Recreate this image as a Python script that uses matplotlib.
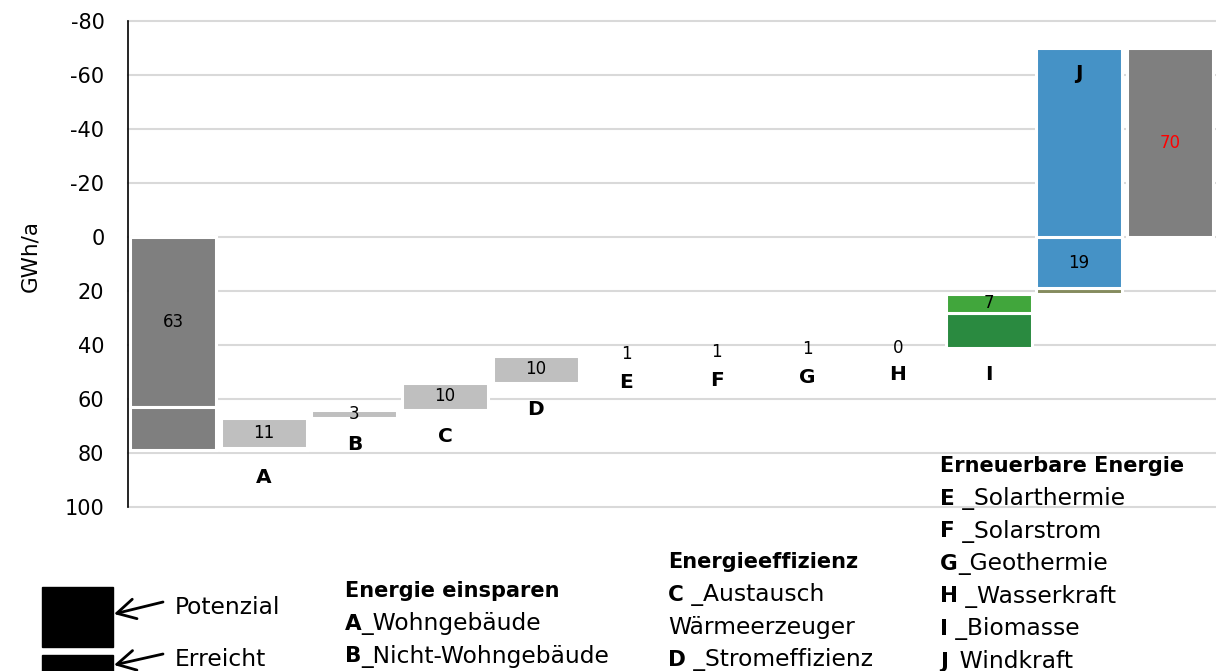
import matplotlib
matplotlib.use("Agg")
import matplotlib.pyplot as plt
from matplotlib.patches import Rectangle
from matplotlib.transforms import offset_copy

plt.rcParams['font.family'] = ['DejaVu Sans']

# ---- data -------------------------------------------------------------
start_segments = [63, 16]                      # starting bar, drawn downward from 0
categories = ['A', 'B', 'C', 'D', 'E', 'F', 'G', 'H', 'I', 'J']
erreicht = [1, 0, 0, 0, 0, 0, 0, 0, 13, 2]     # achieved part of each measure
potenzial = [11, 3, 10, 10, 1, 1, 1, 0, 7, 89]  # remaining potential
yticks = [-80, -60, -40, -20, 0, 20, 40, 60, 80, 100]

gray_dark = '#7f7f7f'
gray_light = '#bfbfbf'
pot_colors = [gray_light] * 8 + ['#41a63c', '#4592c6']
err_colors = [gray_light] * 8 + ['#2a8a40', '#858b5e']

W, H = 1216, 671
fig = plt.figure(figsize=(W / 100, H / 100), dpi=100)
ax = fig.add_axes([128 / W, 1 - 507 / H, (1215 - 128) / W, (507 - 21) / H])

bw = 0.95
edge = dict(edgecolor='white', linewidth=2.2)
num_fs = 12
let_fs = 14.5


def seg(x, a, b, color):
    ax.bar(x, b - a, bottom=a, width=bw, color=color, zorder=2, **edge)


# starting bar
seg(0, 0, start_segments[0], gray_dark)
ax.text(0, start_segments[0] / 2, f"{start_segments[0]}", ha='center', va='center', fontsize=num_fs)
seg(0, start_segments[0], sum(start_segments), gray_dark)
level = sum(start_segments)

for i, cat in enumerate(categories):
    x = i + 1
    bottom = level
    e, p = erreicht[i], potenzial[i]
    if e:
        seg(x, level - e, level, err_colors[i])
    level -= e
    top = level - p
    if top < 0 < level:
        # split the potential at the zero line
        seg(x, 0, level, pot_colors[i])
        seg(x, top, 0, pot_colors[i])
        ax.text(x, level / 2, f"{level}", ha='center', va='center', fontsize=num_fs)
        ax.text(x, top + 9.5, cat, ha='center', va='center', fontsize=let_fs, fontweight='bold')
    else:
        seg(x, top, level, pot_colors[i])
        ax.text(x, level - p / 2, f"{p}", ha='center', va='center', fontsize=num_fs)
        ax.text(x, bottom + 10, cat, ha='center', va='center', fontsize=let_fs, fontweight='bold')
    level = top

# result bar
n = len(categories) + 1
seg(n, level, 0, gray_dark)
ax.text(n, level / 2, f"{-level}", ha='center', va='center', fontsize=num_fs, color='red')

ax.set_xlim(-0.5, n + 0.5)
ax.set_ylim(100, -80)
ax.set_yticks(yticks)
ax.set_yticklabels([str(t) for t in yticks], fontsize=15)
ax.set_xticks([])
ax.tick_params(axis='y', length=0, pad=17)
ax.yaxis.grid(True, color='#d9d9d9', linewidth=1.5)
for gl in ax.get_ygridlines():
    gl.set_clip_on(False)
ax.set_axisbelow(True)
for s in ['top', 'right', 'bottom']:
    ax.spines[s].set_visible(False)
ax.spines['left'].set_color('black')
ax.spines['left'].set_linewidth(1.2)
ax.spines['left'].set_zorder(3)


def fy(y):
    return 1 - y / H


fig.text(30 / W, fy(256), 'GWh/a', fontsize=15.5, rotation=90, ha='center', va='center')

# legend key for the two segment kinds
fig.patches.append(Rectangle((42 / W, fy(647)), 71 / W, 60 / H, transform=fig.transFigure,
                             color='black', zorder=3))
fig.patches.append(Rectangle((42 / W, fy(680)), 71 / W, 25 / H, transform=fig.transFigure,
                             color='black', zorder=3))
for ytxt, ytail, ytip, label in [(607, 602, 614, 'Potenzial'), (659, 654, 665, 'Erreicht')]:
    fig.text(175 / W, fy(ytxt), label, fontsize=16.8, va='center', ha='left')
    ax.annotate('', xy=(114 / W, fy(ytip)), xytext=(163 / W, fy(ytail)),
                xycoords='figure fraction', textcoords='figure fraction',
                arrowprops=dict(arrowstyle='->,head_length=0.55,head_width=0.3', lw=2,
                                color='black', mutation_scale=24, shrinkA=0, shrinkB=0))

# category descriptions
groups = [
    (345, 591, 'Energie einsparen', [('A', '_Wohngebäude'), ('B', '_Nicht-Wohngebäude')]),
    (668, 562, 'Energieeffizienz', [('C', ' _Austausch'), ('', 'Wärmeerzeuger'), ('D', ' _Stromeffizienz')]),
    (940, 466, 'Erneuerbare Energie', [('E', ' _Solarthermie'), ('F', ' _Solarstrom'),
                                        ('G', '_Geothermie'), ('H', ' _Wasserkraft'),
                                        ('I', ' _Biomasse'), ('J', '_Windkraft')]),
]
step = 32.6
renderer = fig.canvas.get_renderer()
for x0, y0, title, rows in groups:
    fig.text(x0 / W, fy(y0), title, fontsize=15, fontweight='bold', va='center', ha='left')
    for k, (key, desc) in enumerate(rows):
        y = fy(y0 + step * (k + 1))
        dx = 0
        if key:
            t = fig.text(x0 / W, y, key, fontsize=15.5, fontweight='bold', va='center', ha='left')
            dx = t.get_window_extent(renderer).width * 72 / fig.dpi
        fig.text(x0 / W, y, desc, fontsize=16.8, va='center', ha='left',
                 transform=offset_copy(fig.transFigure, fig=fig, x=dx, units='points'))

fig.savefig('out.png', dpi=100)
